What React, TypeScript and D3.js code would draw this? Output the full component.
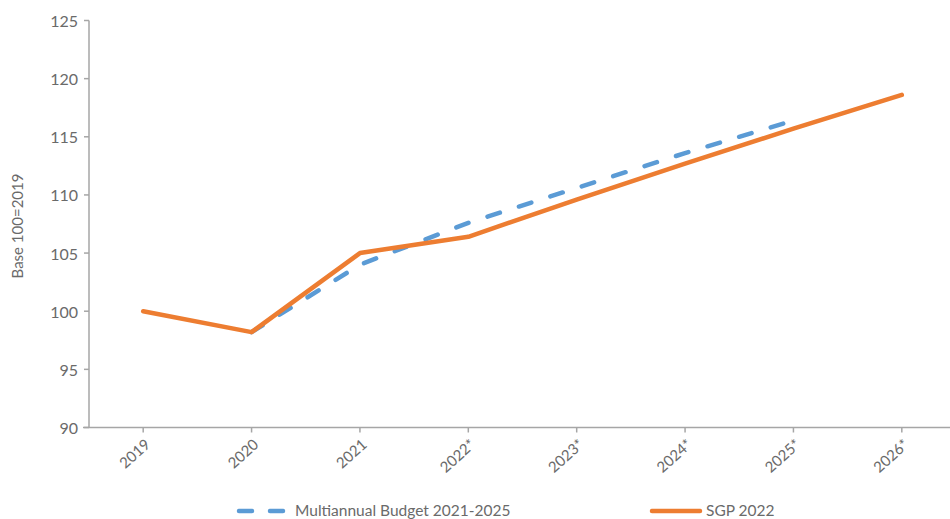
import React from "react";
import * as d3 from "d3";

const categories = ["2019", "2020", "2021", "2022*", "2023*", "2024*", "2025*", "2026*"];
const budgetValues: (number | null)[] = [null, 98.2, 104.0, 107.6, 110.6, 113.6, 116.4, null];
const sgpValues: (number | null)[] = [100, 98.2, 105.0, 106.4, 109.6, 112.7, 115.7, 118.6];
const yTicks = [90, 95, 100, 105, 110, 115, 120, 125];
const seriesNames = ["Multiannual Budget 2021-2025", "SGP 2022"];

const W = 950;
const H = 519;
const left = 89;
const right = 956;
const top = 20.5;
const bottom = 427.5;
const font = "Lato, 'Open Sans', sans-serif";
const axisColor = "#a6a6a6";
const textColor = "#6a6a6a";
const blue = "#5B9BD5";
const orange = "#ED7D31";

export default function App() {
  const x = d3.scaleBand<string>().domain(categories).range([left, right]);
  const y = d3.scaleLinear().domain([90, 125]).range([bottom, top]);
  const cx = (c: string) => (x(c) ?? 0) + x.bandwidth() / 2;

  const line = d3
    .line<{ c: string; v: number | null }>()
    .defined((d) => d.v !== null)
    .x((d) => cx(d.c))
    .y((d) => y(d.v as number));

  const budgetPath = line(categories.map((c, i) => ({ c, v: budgetValues[i] }))) ?? "";
  const sgpPath = line(categories.map((c, i) => ({ c, v: sgpValues[i] }))) ?? "";

  return (
    <svg
      width={W}
      height={H}
      style={{ position: "absolute", left: 0, top: 0, background: "#fff" }}
      fontFamily={font}
      fontWeight={400}
    >
      {/* y axis */}
      <line x1={left} x2={left} y1={top} y2={bottom} stroke={axisColor} strokeWidth={1.5} />
      {yTicks.map((t) => (
        <g key={t}>
          <line x1={left - 5} x2={left} y1={y(t)} y2={y(t)} stroke={axisColor} strokeWidth={1.5} />
          <text
            x={left - 11}
            y={y(t)}
            textAnchor="end"
            dominantBaseline="central"
            fontSize={16}
            fill={textColor}
          >
            {t}
          </text>
        </g>
      ))}
      <text
        transform={`translate(23, ${(top + bottom) / 2 + 2}) rotate(-90)`}
        textAnchor="middle"
        fontSize={15}
        fill={textColor}
      >
        Base 100=2019
      </text>

      {/* x axis */}
      <line x1={left - 6} x2={W} y1={bottom} y2={bottom} stroke={axisColor} strokeWidth={1.5} />
      {categories.map((c) => (
        <g key={c}>
          <line x1={cx(c)} x2={cx(c)} y1={bottom} y2={bottom + 5} stroke={axisColor} strokeWidth={1.5} />
          <text
            transform={`translate(${cx(c) + 4}, ${bottom + 14}) rotate(-42)`}
            textAnchor="end"
            dominantBaseline="central"
            fontSize={15}
            fill={textColor}
          >
            {c}
          </text>
        </g>
      ))}

      {/* series */}
      <path
        d={budgetPath}
        fill="none"
        stroke={blue}
        strokeWidth={4.5}
        strokeDasharray="13 20"
        strokeLinecap="round"
      />
      <path
        d={sgpPath}
        fill="none"
        stroke={orange}
        strokeWidth={4.5}
        strokeLinecap="round"
        strokeLinejoin="round"
      />

      {/* legend */}
      <g>
        <line x1={239} x2={287} y1={511} y2={511} stroke={blue} strokeWidth={4.5} strokeDasharray="13 18" strokeLinecap="round" />
        <text x={295} y={510} dominantBaseline="central" fontSize={15.5} fill={textColor}>
          {seriesNames[0]}
        </text>
        <line x1={652} x2={700} y1={511} y2={511} stroke={orange} strokeWidth={4.5} strokeLinecap="round" />
        <text x={706} y={510} dominantBaseline="central" fontSize={15.5} fill={textColor}>
          {seriesNames[1]}
        </text>
      </g>
    </svg>
  );
}
